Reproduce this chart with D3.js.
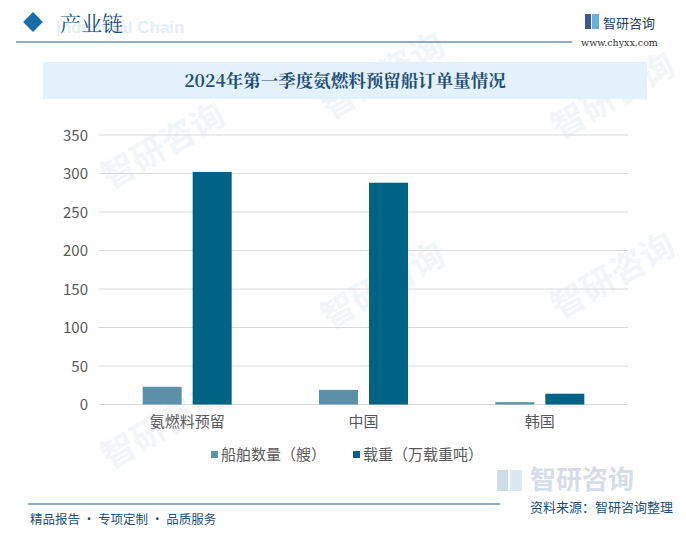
<!DOCTYPE html>
<html><head><meta charset="utf-8">
<script src="https://cdn.jsdelivr.net/npm/d3@7"></script>
<style>body{margin:0;background:#fff}svg{display:block}</style>
</head><body>
<script>
const categories = ["氨燃料预留", "中国", "韩国"];
const seriesNames = ["船舶数量（艘）", "载重（万载重吨）"];
const shipCount = [23, 19, 3];
const deadweight = [302, 288, 14];
const yTicks = [0, 50, 100, 150, 200, 250, 300, 350];
const colors = ["#5b90a8", "#006386"];

const W = 686, H = 534;
const svg = d3.select("body").append("svg").attr("width", W).attr("height", H);
const font = "'Noto Sans CJK SC', 'Noto Sans', sans-serif";

// faint watermarks
const wm = svg.append("g").attr("fill", "#f2f5f8").attr("font-family", font).attr("font-weight", "bold");
[[110,190],[330,330],[560,140],[110,470],[560,320],[330,120]].forEach(([x,y])=>{
  wm.append("text").attr("x",x).attr("y",y).attr("font-size",34)
    .attr("transform",`rotate(-30,${x},${y})`).text("智研咨询");
});

// header
svg.append("rect").attr("x",26).attr("y",15).attr("width",14).attr("height",14)
  .attr("transform","rotate(45,33,22)").attr("fill","#1a6ea8");
svg.append("text").attr("x",56).attr("y",33).attr("font-family","Arial, sans-serif").attr("font-weight","bold")
  .attr("font-size",17).attr("fill","#e4eef7").text("Industrial Chain");
svg.append("text").attr("x",60).attr("y",31).attr("font-family","'Noto Serif CJK SC', 'Noto Sans CJK SC', serif")
  .attr("font-size",21).attr("fill","#1d4f78").text("产业链");
svg.append("line").attr("x1",16).attr("x2",572).attr("y1",42).attr("y2",42).attr("stroke","#1d5f8e").attr("stroke-width",1.2);
// logo
const lg = svg.append("g");
lg.append("rect").attr("x",585).attr("y",14).attr("width",6).attr("height",15).attr("fill","#3b5a92");
lg.append("rect").attr("x",592).attr("y",14).attr("width",7).attr("height",15).attr("fill","#6ab0d8");
svg.append("text").attr("x",603).attr("y",28).attr("font-family",font).attr("font-size",13).attr("fill","#1d3d6b").text("智研咨询");
svg.append("text").attr("x",581).attr("y",46).attr("font-family","'DejaVu Serif', serif").attr("font-size",9.5).attr("fill","#333").text("www.chyxx.com");

// title box
svg.append("rect").attr("x",43).attr("y",62).attr("width",604).attr("height",37).attr("fill","#e3f1fa");
svg.append("text").attr("x",345).attr("y",87).attr("text-anchor","middle")
  .attr("font-family","'Noto Serif CJK SC', 'Noto Sans CJK SC', serif").attr("font-weight","bold")
  .attr("font-size",17.5).attr("fill","#1d4f78").text("2024年第一季度氨燃料预留船订单量情况");

// chart
const x0 = d3.scaleBand().domain(categories).range([99, 628]).paddingInner(0).paddingOuter(0);
const y = d3.scaleLinear().domain([0, 350]).range([404.5, 135]);
const g = svg.append("g");
g.selectAll("line.grid").data(yTicks).enter().append("line")
  .attr("x1",99).attr("x2",628).attr("y1",d=>y(d)).attr("y2",d=>y(d))
  .attr("stroke","#d9d9d9").attr("stroke-width",1);

const yAxis = d3.axisLeft(y).tickValues(yTicks).tickSize(0).tickPadding(0);
const ya = svg.append("g").attr("transform","translate(88,0)").call(yAxis);
ya.select(".domain").remove();
ya.selectAll("text").attr("font-family",font).attr("font-size",15).attr("fill","#595959").attr("dy","0.35em");

const barW = 39, gap = 11;
const series = [shipCount, deadweight];
series.forEach((vals, si) => {
  g.selectAll(null).data(vals).enter().append("rect")
    .attr("x",(d,i)=>x0(categories[i]) + x0.bandwidth()/2 - (barW + gap/2) + si*(barW+gap))
    .attr("y",d=>y(d)).attr("width",barW).attr("height",d=>y(0)-y(d))
    .attr("fill",colors[si]);
});

const xAxis = d3.axisBottom(x0).tickSize(0).tickPadding(0);
const xa = svg.append("g").attr("transform","translate(0,416)").call(xAxis);
xa.select(".domain").remove();
xa.selectAll("text").attr("font-family",font).attr("font-size",15).attr("fill","#595959").attr("dy","0.75em");

// legend
const legX = [211, 353];
seriesNames.forEach((n,i)=>{
  svg.append("rect").attr("x",legX[i]).attr("y",451).attr("width",7).attr("height",7).attr("fill",colors[i]);
  svg.append("text").attr("x",legX[i]+10).attr("y",460).attr("font-family",font).attr("font-size",15)
    .attr("fill","#595959").text(n);
});

// footer
const fl = svg.append("g");
fl.append("rect").attr("x",497).attr("y",470).attr("width",11).attr("height",21).attr("fill","#cfdcea");
fl.append("rect").attr("x",510).attr("y",470).attr("width",12).attr("height",21).attr("fill","#d8e8f4");
svg.append("text").attr("x",530).attr("y",489).attr("font-family",font).attr("font-weight","bold")
  .attr("font-size",26).attr("fill","#d5dde8").text("智研咨询");
svg.append("line").attr("x1",28).attr("x2",500).attr("y1",504).attr("y2",504).attr("stroke","#1d5f8e").attr("stroke-width",1.2);
svg.append("text").attr("x",30).attr("y",524).attr("font-family",font).attr("font-size",12.5).attr("fill","#1d4f78")
  .text("精品报告 · 专项定制 · 品质服务");
svg.append("text").attr("x",673).attr("y",512).attr("text-anchor","end").attr("font-family",font).attr("font-size",13)
  .attr("fill","#1d4f78").text("资料来源：智研咨询整理");
</script>
</body></html>
